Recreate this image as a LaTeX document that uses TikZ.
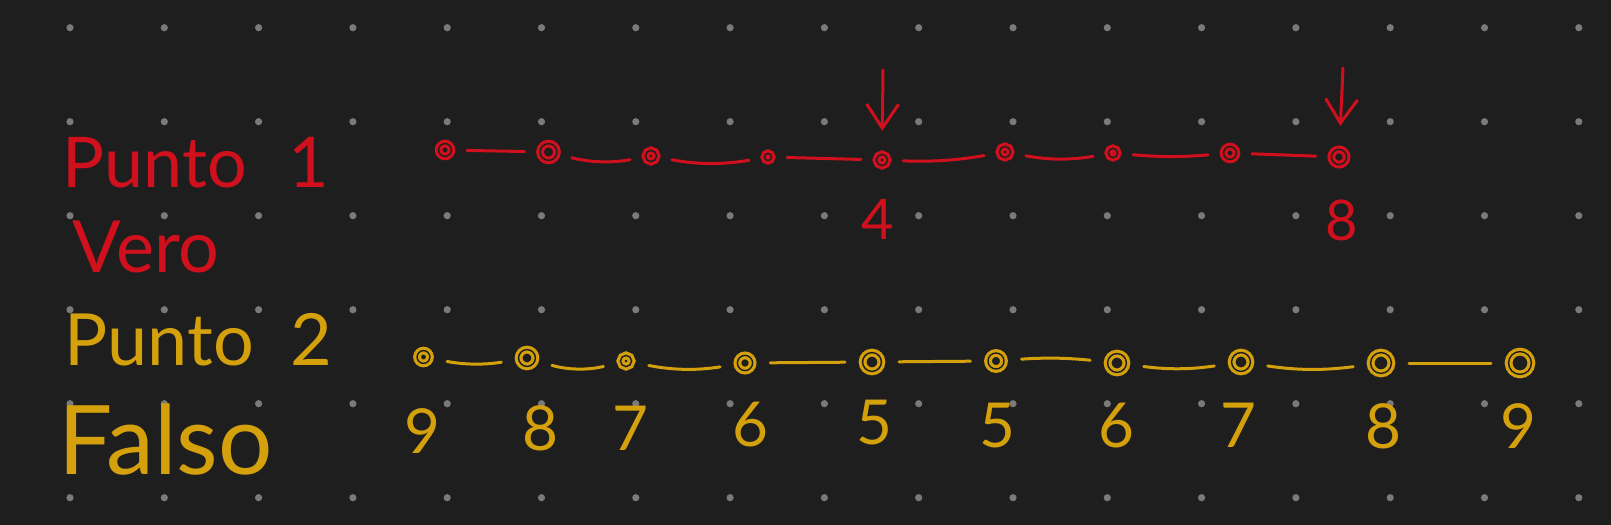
\documentclass[tikz,border=0pt]{standalone}
\usepackage{fontspec}
\setmainfont{Lato}
\usepackage{tikz}
\usetikzlibrary{arrows.meta,positioning}
\definecolor{Board}{HTML}{1E1E1F}
\definecolor{GridDot}{HTML}{7A7A7A}
\definecolor{RedInk}{HTML}{D0101C}
\definecolor{GoldInk}{HTML}{D4A00C}
\tikzset{
  redbead/.style={circle,draw=RedInk,line width=0.8pt,double=Board,
              double distance=0.35pt,inner sep=0pt,minimum size=#1},
  goldbead/.style={circle,draw=GoldInk,line width=0.8pt,double=Board,
              double distance=0.35pt,inner sep=0pt,minimum size=#1},
  redlink/.style={draw=RedInk,line width=0.75pt,line cap=round,
              shorten >=3.5pt,shorten <=3.5pt},
  goldlink/.style={draw=GoldInk,line width=0.75pt,line cap=round,
              shorten >=4pt,shorten <=4pt},
  pointer/.style={-{Straight Barb[length=6pt,width=8pt]},draw=RedInk,
              line width=0.75pt,line cap=round,shorten >=5.5pt},
  redhand/.style={text=RedInk,inner sep=0pt,anchor=base west},
  goldhand/.style={text=GoldInk,inner sep=0pt,anchor=base west},
  rednum/.style={text=RedInk,inner sep=0pt,font=\fontsize{14}{14}\selectfont},
  goldnum/.style={text=GoldInk,inner sep=0pt,font=\fontsize{15.5}{15.5}\selectfont}
}

\begin{document}
\begin{tikzpicture}[x=0.25pt,y=0.25pt]
  % board and dot grid
  \fill[Board] (0,0) rectangle (1611,-525);
  \useasboundingbox (0,0) rectangle (1611,-525);
  \foreach \i in {0,...,16}
    \foreach \j in {0,...,5}
      \fill[GridDot] (70+94.3*\i,-27.7-94*\j) circle (0.9pt);

  % labels
  \node[redhand,font=\fontsize{17.5}{17.5}\selectfont] (punto1) at (62,-187) {Punto\hspace{0.6em}1};
  \node[redhand,font=\fontsize{18}{18}\selectfont] (vero) at (72,-272) {Vero};
  \node[goldhand,font=\fontsize{18}{18}\selectfont] (punto2) at (64,-366) {Punto\hspace{0.5em}2};
  \node[goldhand,font=\fontsize{24}{24}\selectfont] (falso) at (58,-474) {Falso};

  % first chain
  \node[redbead=3.2pt] (r1) at (445,-150) {};
  \node[redbead=4.2pt] (r2) at (548.5,-152) {};
  \node[redbead=2.8pt] (r3) at (651,-156) {};
  \node[redbead=1.8pt] (r4) at (768,-157) {};
  \node[redbead=2.8pt] (r5) at (882,-160) {};
  \node[redbead=2.8pt] (r6) at (1005,-152) {};
  \node[redbead=2.3pt] (r7) at (1113,-153) {};
  \node[redbead=3.2pt] (r8) at (1230,-153) {};
  \node[redbead=3.8pt] (r9) at (1339,-157) {};
  \draw[redlink] (r1) -- (r2);
  \draw[redlink] (r2) to[bend right=12] (r3);
  \draw[redlink] (r3) to[bend right=10] (r4);
  \draw[redlink] (r4) -- (r5);
  \draw[redlink] (r5) to[bend right=6] (r6);
  \draw[redlink] (r6) to[bend right=10] (r7);
  \draw[redlink] (r7) to[bend right=5] (r8);
  \draw[redlink] (r8) -- (r9);
  \coordinate (a4) at (883,-70);
  \coordinate (a8) at (1343,-68);
  \draw[pointer] (a4) -- (r5);
  \draw[pointer] (a8) -- (r9);
  \node[rednum] (n4) at (878,-219) {4};
  \node[rednum] (n8) at (1342,-220) {8};

  % second chain
  \node[goldbead=3.2pt] (g1) at (423.5,-357) {};
  \node[goldbead=4.2pt] (g2) at (527,-358) {};
  \node[goldbead=2.8pt] (g3) at (626,-361) {};
  \node[goldbead=3.8pt] (g4) at (745,-363) {};
  \node[goldbead=4.7pt] (g5) at (872,-362) {};
  \node[goldbead=4pt] (g6) at (996,-361) {};
  \node[goldbead=4.7pt] (g7) at (1117,-363) {};
  \node[goldbead=4.7pt] (g8) at (1241,-362) {};
  \node[goldbead=5.2pt] (g9) at (1381,-363) {};
  \node[goldbead=5.7pt] (g10) at (1520,-363) {};
  \draw[goldlink] (g1) to[bend right=10] (g2);
  \draw[goldlink] (g2) to[bend right=15] (g3);
  \draw[goldlink] (g3) to[bend right=10] (g4);
  \draw[goldlink] (g4) -- (g5);
  \draw[goldlink] (g5) -- (g6);
  \draw[goldlink] (g6) to[bend left=5] (g7);
  \draw[goldlink] (g7) to[bend right=8] (g8);
  \draw[goldlink] (g8) to[bend right=8] (g9);
  \draw[goldlink] (g9) -- (g10);
  \node[goldnum] (m1) at (422,-431) {9};
  \node[goldnum] (m2) at (540,-428) {8};
  \node[goldnum] (m3) at (630,-428) {7};
  \node[goldnum] (m4) at (750,-425) {6};
  \node[goldnum] (m5) at (874,-423) {5};
  \node[goldnum] (m6) at (997,-426) {5};
  \node[goldnum] (m7) at (1116,-426) {6};
  \node[goldnum] (m8) at (1238,-425) {7};
  \node[goldnum] (m9) at (1383,-426) {8};
  \node[goldnum] (m10) at (1518,-426) {9};
\end{tikzpicture}
\end{document}
